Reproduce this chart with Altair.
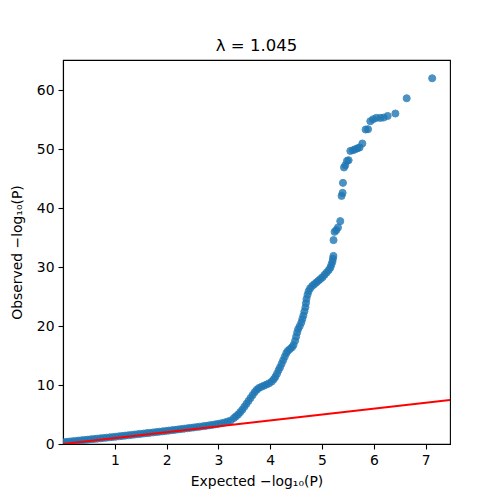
import altair as alt
import pandas as pd

# Expected vs observed -log10(P) values, ordered along the QQ curve
expected = [
    0.00, 0.06, 0.12, 0.18, 0.24, 0.30, 0.36, 0.42, 0.48, 0.54,
    0.60, 0.66, 0.72, 0.78, 0.84, 0.90, 0.96, 1.02, 1.08, 1.14,
    1.20, 1.26, 1.32, 1.38, 1.44, 1.50, 1.56, 1.62, 1.68, 1.74,
    1.80, 1.86, 1.92, 1.98, 2.04, 2.10, 2.16, 2.22, 2.28, 2.34,
    2.40, 2.46, 2.52, 2.58, 2.64, 2.70, 2.76, 2.82, 2.88, 2.94,
    3.00, 3.06, 3.12, 3.18, 3.24, 3.30, 3.34, 3.38, 3.42, 3.46,
    3.50, 3.54, 3.58, 3.62, 3.66, 3.70, 3.74, 3.78, 3.83, 3.88,
    3.93, 3.98, 4.03, 4.07, 4.10, 4.13, 4.16, 4.19, 4.22, 4.25,
    4.28, 4.31, 4.34, 4.38, 4.42, 4.45, 4.48, 4.50, 4.52, 4.54,
    4.57, 4.60, 4.62, 4.64, 4.66, 4.68, 4.69, 4.70, 4.72, 4.74,
    4.77, 4.81, 4.85, 4.89, 4.93, 4.97, 5.01, 5.05, 5.09, 5.13,
    5.16, 5.18, 5.20, 5.21, 5.22,
    5.222, 5.242, 5.275, 5.308, 5.352, 5.377, 5.397, 5.404, 5.424, 5.449,
    5.482, 5.513, 5.546, 5.598, 5.642, 5.687, 5.725, 5.778, 5.841, 5.888,
    5.932, 5.985, 6.048, 6.126, 6.190, 6.267, 6.416, 6.634, 7.126,
]
observed = [
    0.30, 0.36, 0.41, 0.47, 0.52, 0.58, 0.63, 0.69, 0.74, 0.80,
    0.85, 0.91, 0.96, 1.02, 1.07, 1.13, 1.18, 1.24, 1.30, 1.36,
    1.42, 1.48, 1.54, 1.60, 1.66, 1.72, 1.78, 1.84, 1.90, 1.96,
    2.02, 2.08, 2.14, 2.21, 2.27, 2.34, 2.40, 2.47, 2.53, 2.60,
    2.67, 2.74, 2.80, 2.87, 2.94, 3.01, 3.08, 3.16, 3.24, 3.33,
    3.42, 3.53, 3.66, 3.82, 4.00, 4.40, 4.70, 5.00, 5.40, 5.80,
    6.30, 6.80, 7.30, 7.80, 8.30, 8.80, 9.20, 9.50, 9.70, 9.90,
    10.1, 10.3, 10.6, 11.0, 11.4, 11.9, 12.5, 13.0, 13.6, 14.2,
    14.8, 15.4, 15.8, 16.1, 16.4, 16.8, 17.5, 18.2, 18.9, 19.5,
    20.0, 20.6, 21.2, 21.8, 22.5, 23.2, 23.9, 24.6, 25.3, 25.9,
    26.4, 26.8, 27.1, 27.4, 27.7, 28.0, 28.3, 28.7, 29.1, 29.5,
    29.9, 30.4, 30.9, 31.4, 31.9,
    34.58, 35.98, 36.27, 36.73, 37.80, 42.08, 42.59, 44.29, 46.90, 47.29,
    48.02, 48.14, 49.71, 49.83, 50.00, 50.17, 50.29, 50.97, 53.34, 53.39,
    54.75, 55.08, 55.31, 55.31, 55.37, 55.64, 56.05, 58.64, 62.03,
]

# Null diagonal y = x
diag_x = [0.0, 7.47]
diag_y = [0.0, 7.47]

x_ticks = [1, 2, 3, 4, 5, 6, 7]
y_ticks = [0, 10, 20, 30, 40, 50, 60]

x_domain = [0.0, 7.47]
y_domain = [0.0, 65.13]

pts = pd.DataFrame({"expected": expected, "observed": observed})
diag = pd.DataFrame({"expected": diag_x, "observed": diag_y})

FONT = "DejaVu Sans"

x_enc = alt.X(
    "expected:Q",
    scale=alt.Scale(domain=x_domain, nice=False, zero=False),
    axis=alt.Axis(values=x_ticks, title="Expected −log₁₀(P)", titlePadding=8),
)
y_enc = alt.Y(
    "observed:Q",
    scale=alt.Scale(domain=y_domain, nice=False, zero=False),
    axis=alt.Axis(values=y_ticks, title="Observed −log₁₀(P)", titlePadding=12),
)

points = alt.Chart(pts).mark_circle(
    size=50, color="#1f77b4", stroke="#1f77b4", strokeWidth=1,
    opacity=0.8, clip=True,
).encode(x=x_enc, y=y_enc)

line = alt.Chart(diag).mark_line(
    color="red", strokeWidth=2, clip=True
).encode(x=x_enc, y=y_enc)

chart = (
    alt.layer(points, line)
    .properties(
        width=387,
        height=384,
        padding={"left": 63, "top": 60, "right": 50, "bottom": 56},
        autosize="none",
        title=alt.TitleParams(
            "λ = 1.045", fontSize=16.5, font=FONT, fontWeight="normal",
            color="black", offset=6,
        ),
    )
    .configure_view(stroke="black", strokeWidth=1.1)
    .configure_axis(
        grid=False,
        domainColor="black",
        domainWidth=1.1,
        tickColor="black",
        tickWidth=1.1,
        tickSize=5,
        labelPadding=4,
        labelFont=FONT,
        labelFontSize=13.9,
        labelColor="black",
        titleFont=FONT,
        titleFontSize=13.9,
        titleFontWeight="normal",
        titleColor="black",
    )
)

chart.save("out.html", embed_options={"renderer": "svg", "actions": False})
